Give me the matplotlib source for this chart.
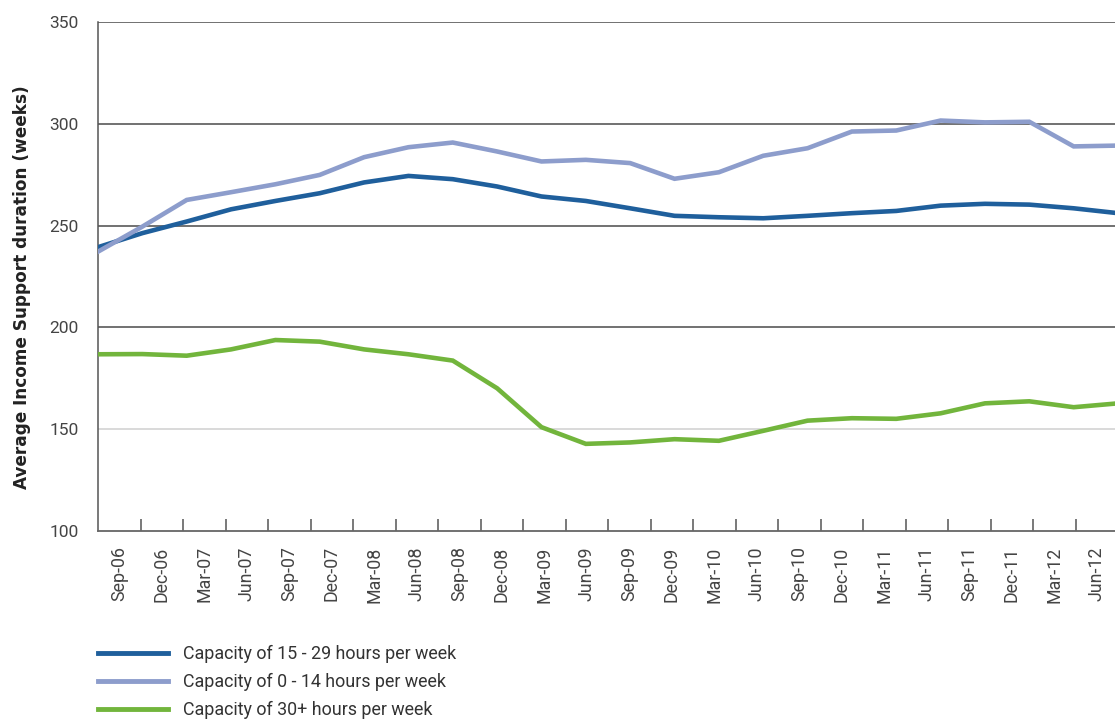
import matplotlib
matplotlib.use("Agg")
import matplotlib.pyplot as plt
import numpy as np
from matplotlib.lines import Line2D

# ---- data ----
quarters = ["Sep-06", "Dec-06", "Mar-07", "Jun-07", "Sep-07", "Dec-07", "Mar-08", "Jun-08",
            "Sep-08", "Dec-08", "Mar-09", "Jun-09", "Sep-09", "Dec-09", "Mar-10", "Jun-10",
            "Sep-10", "Dec-10", "Mar-11", "Jun-11", "Sep-11", "Dec-11", "Mar-12", "Jun-12"]

cap_15_29 = [239.4, 246.3, 252.0, 258.0, 262.1, 265.9, 271.2, 274.4, 272.8, 269.2, 264.3, 262.1,
             258.5, 254.8, 254.1, 253.6, 254.8, 256.1, 257.2, 259.8, 260.7, 260.3, 258.5, 256.1]
cap_0_14 = [237.2, 249.5, 262.6, 266.4, 270.3, 274.9, 283.6, 288.5, 290.8, 286.4, 281.5, 282.3,
            280.7, 273.0, 276.2, 284.3, 288.0, 296.2, 296.7, 301.6, 300.7, 301.0, 288.9, 289.3]
cap_30_plus = [186.8, 186.9, 186.1, 189.2, 193.8, 193.0, 189.2, 186.8, 183.7, 170.1, 151.0, 142.8,
               143.5, 145.1, 144.3, 149.2, 154.2, 155.4, 155.1, 157.8, 162.7, 163.7, 160.8, 162.7]

series_labels = ["Capacity of 15 - 29 hours per week",
                 "Capacity of 0 - 14 hours per week",
                 "Capacity of 30+ hours per week"]
series_colors = ["#1f5f9c", "#8d9dcc", "#72b53c"]
y_ticks = [100, 150, 200, 250, 300, 350]

# ---- figure ----
W, H = 1115, 719
fig = plt.figure(figsize=(W / 100, H / 100), dpi=100)
left, right, top, bottom = 98, 1118, 22, 531
ax = fig.add_axes([left / W, 1 - bottom / H, (right - left) / W, (bottom - top) / H])

n_cat = len(quarters)
n_pts = len(cap_15_29)
xs = np.arange(n_pts) * n_cat / (n_pts - 1)

ax.set_xlim(0, n_cat)
ax.set_ylim(100, 350)

# gridlines
for yv in y_ticks[1:]:
    col = "#cfcfcf" if yv == 150 else "#4a4a4a"
    ax.axhline(yv, color=col, lw=1.1, zorder=1)

for vals, col in zip([cap_15_29, cap_0_14, cap_30_plus], series_colors):
    ax.plot(xs, vals, color=col, lw=3.3, solid_joinstyle="miter", zorder=3)

# spines
for s in ["top", "right"]:
    ax.spines[s].set_visible(False)
ax.spines["left"].set_color("#555555")
ax.spines["bottom"].set_color("#666666")
ax.spines["left"].set_linewidth(1.1)
ax.spines["bottom"].set_linewidth(1.3)

tick_font = ["Roboto", "DejaVu Sans"]

# x ticks: marks between categories, labels at centers
ax.set_xticks(np.arange(1, n_cat))
ax.tick_params(axis="x", which="major", direction="in", length=9, width=1.1,
               color="#555555", labelbottom=False)
ax.set_xticks(np.arange(n_cat) + 0.5, minor=True)
ax.set_xticklabels(quarters, minor=True, rotation=90, fontsize=12.8,
                   color="#444444", family=tick_font)
ax.tick_params(axis="x", which="minor", length=0, pad=11)

# y ticks
ax.set_yticks(y_ticks)
ax.set_yticklabels([str(v) for v in y_ticks], fontsize=12.5, color="#444444", family=tick_font)
ax.tick_params(axis="y", length=0, pad=14)

fig.text(22 / W, 1 - 287 / H, "Average Income Support duration (weeks)", rotation=90,
         ha="center", va="center", fontsize=12.2, fontweight="bold", color="#222222")

handles = [Line2D([0], [0], color=c, lw=3.5) for c in series_colors]
leg = fig.legend(handles, series_labels, loc="upper left",
                 bbox_to_anchor=(98 / W, 1 - 645 / H), frameon=False,
                 prop={"family": tick_font, "size": 12.9},
                 handlelength=3.9, handletextpad=0.85, labelspacing=0.55,
                 borderpad=0, borderaxespad=0)
for t in leg.get_texts():
    t.set_color("#333333")

fig.savefig("out.png", dpi=100)
